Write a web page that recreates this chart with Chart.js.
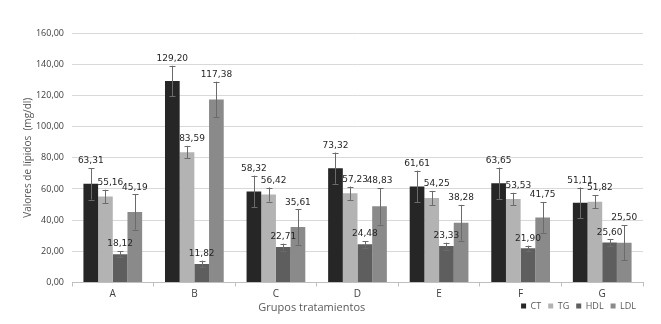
<!DOCTYPE html>
<html>
<head>
<meta charset="utf-8">
<script src="https://cdn.jsdelivr.net/npm/chart.js@4.4.1/dist/chart.umd.min.js"></script>
<style>
  html, body { margin: 0; padding: 0; background: #fff; }
</style>
</head>
<body>
<canvas id="chart" width="661" height="324"></canvas>
<script>
const groups = ['A', 'B', 'C', 'D', 'E', 'F', 'G'];
const seriesNames = ['CT', 'TG', 'HDL', 'LDL'];

const ctValues = [63.31, 129.20, 58.32, 73.32, 61.61, 63.65, 51.11];
const tgValues = [55.16, 83.59, 56.42, 57.23, 54.25, 53.53, 51.82];
const hdlValues = [18.12, 11.82, 22.71, 24.48, 23.33, 21.90, 25.60];
const ldlValues = [45.19, 117.38, 35.61, 48.83, 38.28, 41.75, 25.50];

// error bar half widths
const ctErr = [10.1, 9.8, 10.2, 10.0, 10.1, 10.0, 9.8];
const tgErr = [4.3, 4.0, 4.5, 4.3, 4.5, 4.0, 4.3];
const hdlErr = [2.0, 2.2, 2.2, 2.1, 2.2, 1.7, 2.1];
const ldlErr = [11.3, 11.4, 11.4, 11.7, 11.5, 9.9, 11.3];

const yTickLabels = ['0,00', '20,00', '40,00', '60,00', '80,00', '100,00', '120,00', '140,00', '160,00'];

const colors = ['#262626', '#b3b3b3', '#5e5e5e', '#8a8a8a'];
const allValues = [ctValues, tgValues, hdlValues, ldlValues];
const allErr = [ctErr, tgErr, hdlErr, ldlErr];

const fmt = v => v.toFixed(2).replace('.', ',');

// error bars drawn through the y scale
const errorBars = {
    id: 'errorBars',
    afterDatasetsDraw(chart) {
        const ctx = chart.ctx;
        const y = chart.scales.y;
        ctx.save();
        ctx.strokeStyle = '#6b6b6b';
        ctx.lineWidth = 1;
        chart.data.datasets.forEach((ds, di) => {
            const meta = chart.getDatasetMeta(di);
            meta.data.forEach((bar, i) => {
                const v = ds.data[i];
                const e = allErr[di][i];
                const x = Math.round(bar.x) + 0.5;
                const top = y.getPixelForValue(v + e);
                const bot = y.getPixelForValue(v - e);
                ctx.beginPath();
                ctx.moveTo(x, top);
                ctx.lineTo(x, bot);
                ctx.moveTo(x - 3, Math.round(top) + 0.5);
                ctx.lineTo(x + 3, Math.round(top) + 0.5);
                ctx.moveTo(x - 3, Math.round(bot) + 0.5);
                ctx.lineTo(x + 3, Math.round(bot) + 0.5);
                ctx.stroke();
            });
        });
        ctx.restore();
    }
};

// value labels above the error bars (TG ones nudged right, like the original)
const valueLabels = {
    id: 'valueLabels',
    afterDatasetsDraw(chart) {
        const ctx = chart.ctx;
        const y = chart.scales.y;
        ctx.save();
        ctx.font = '9px "DejaVu Sans", sans-serif';
        ctx.fillStyle = '#262626';
        ctx.textAlign = 'center';
        ctx.textBaseline = 'middle';
        chart.data.datasets.forEach((ds, di) => {
            const meta = chart.getDatasetMeta(di);
            const dx = di === 1 ? 5 : 0;
            meta.data.forEach((bar, i) => {
                const v = ds.data[i];
                const top = y.getPixelForValue(v + allErr[di][i]);
                ctx.fillText(fmt(v), bar.x + dx, top - 7);
            });
        });
        ctx.restore();
    }
};

// x axis title sits left of centre, level with the legend
const xTitle = {
    id: 'xTitle',
    afterDraw(chart) {
        const a = chart.chartArea;
        const ctx = chart.ctx;
        ctx.save();
        ctx.font = '11px "Open Sans", sans-serif';
        ctx.fillStyle = '#595959';
        ctx.textAlign = 'center';
        ctx.textBaseline = 'middle';
        ctx.fillText('Grupos tratamientos', a.left + (a.right - a.left) * 0.42, 308);
        ctx.restore();
    }
};

// pull the legend up so it shares the row with the axis title
const legendUp = {
    id: 'legendUp',
    afterLayout(chart) {
        chart.legend.top -= 8;
        chart.legend.bottom -= 8;
    }
};

Chart.defaults.font.family = '"Open Sans", sans-serif';
Chart.defaults.color = '#595959';

new Chart(document.getElementById('chart'), {
    type: 'bar',
    data: {
        labels: groups,
        datasets: seriesNames.map((name, i) => ({
            label: name,
            data: allValues[i],
            backgroundColor: colors[i],
            borderWidth: 0,
            categoryPercentage: 0.72,
            barPercentage: 1.0
        }))
    },
    options: {
        responsive: false,
        animation: false,
        layout: {
            padding: { top: 33, right: 18, bottom: 1.5, left: 0 }
        },
        plugins: {
            legend: {
                position: 'bottom',
                align: 'end',
                maxHeight: 20,
                labels: {
                    boxWidth: 5,
                    boxHeight: 5,
                    padding: 7,
                    font: { size: 9 },
                    color: '#595959'
                }
            },
            tooltip: { enabled: false }
        },
        scales: {
            x: {
                grid: {
                    drawOnChartArea: false,
                    drawTicks: true,
                    tickLength: 4,
                    color: '#bfbfbf'
                },
                border: { color: '#bfbfbf' },
                ticks: { font: { size: 10 }, padding: 2, color: '#404040' }
            },
            y: {
                min: 0,
                max: 160,
                ticks: {
                    stepSize: 20,
                    font: { size: 9 },
                    padding: 8,
                    color: '#404040',
                    callback: (v, i) => yTickLabels[i]
                },
                grid: { color: '#d9d9d9', drawTicks: false },
                border: { display: false },
                title: {
                    display: true,
                    text: 'Valores de lípidos  (mg/dl)',
                    font: { size: 10 },
                    color: '#595959',
                    padding: { top: 22, bottom: 0 }
                },
                afterFit(scale) { scale.width = 72; }
            }
        }
    },
    plugins: [errorBars, valueLabels, xTitle, legendUp]
});
</script>
</body>
</html>
